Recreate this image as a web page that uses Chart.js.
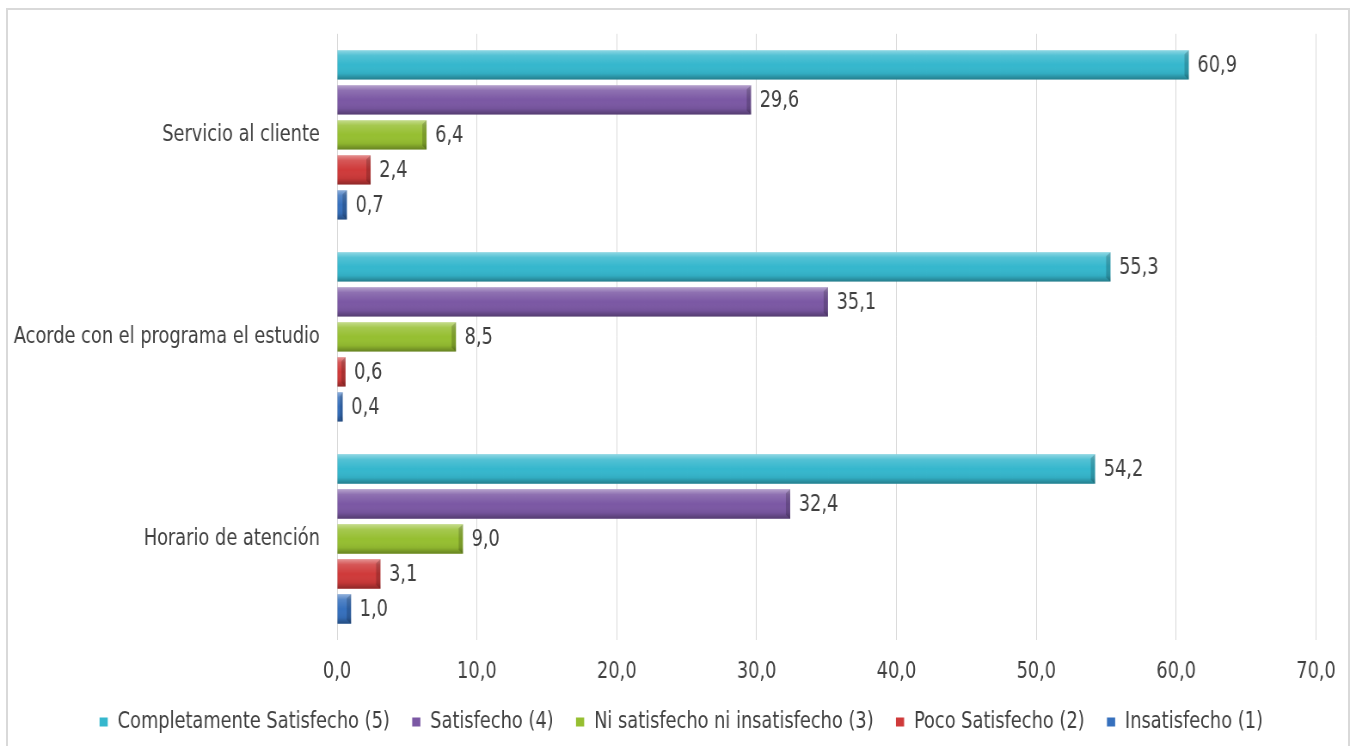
<!DOCTYPE html>
<html>
<head>
<meta charset="utf-8">
<script src="https://cdn.jsdelivr.net/npm/chart.js@4.4.1/dist/chart.umd.min.js"></script>
<style>
  html, body { margin: 0; padding: 0; background: #fff; width: 1356px; height: 746px; overflow: hidden; }
  #frame { position: absolute; left: 6px; top: 8px; width: 1344px; height: 760px; border: 2px solid #d9d9d9; box-sizing: border-box; }
  #wrap { position: absolute; left: 0; top: 0; width: 1577px; height: 746px; transform: scaleX(0.85986); transform-origin: 0 0; }
</style>
</head>
<body>
<div id="frame"></div>
<div id="wrap"><canvas id="c" width="1577" height="746"></canvas></div>
<script>
const categories = ['Servicio al cliente', 'Acorde con el programa el estudio', 'Horario de atención'];
const seriesNames = ['Completamente Satisfecho (5)', 'Satisfecho (4)', 'Ni satisfecho ni insatisfecho (3)', 'Poco Satisfecho (2)', 'Insatisfecho (1)'];
const completamente = [60.9, 55.3, 54.2];
const satisfecho = [29.6, 35.1, 32.4];
const niSatisfecho = [6.4, 8.5, 9.0];
const pocoSatisfecho = [2.4, 0.6, 3.1];
const insatisfecho = [0.7, 0.4, 1.0];
const xTicks = [0, 10, 20, 30, 40, 50, 60, 70];
const seriesColors = ['#35b7cd', '#7b58a4', '#96bf31', '#cf3a3a', '#3670bd'];

const FONT = "'DejaVu Sans Condensed', 'DejaVu Sans', sans-serif";
const TEXT = '#404040';
const fmt = v => v.toFixed(1).replace('.', ',');

const bevelPlugin = {
  id: 'bevel',
  afterDatasetsDraw(chart) {
    const ctx = chart.ctx;
    chart.data.datasets.forEach((ds, di) => {
      const meta = chart.getDatasetMeta(di);
      if (meta.hidden) return;
      meta.data.forEach(bar => {
        const top = bar.y - bar.height / 2;
        const h = bar.height;
        const left = Math.min(bar.x, bar.base);
        const w = Math.abs(bar.x - bar.base);
        ctx.save();
        const g = ctx.createLinearGradient(0, top, 0, top + h);
        g.addColorStop(0, 'rgba(255,255,255,0.45)');
        g.addColorStop(0.18, 'rgba(255,255,255,0.15)');
        g.addColorStop(0.5, 'rgba(255,255,255,0)');
        g.addColorStop(0.8, 'rgba(0,0,0,0.06)');
        g.addColorStop(1, 'rgba(0,0,0,0.32)');
        ctx.fillStyle = g;
        ctx.fillRect(left, top, w, h);
        const bw = Math.min(5, w / 2);
        ctx.fillStyle = 'rgba(0,0,0,0.18)';
        ctx.beginPath();
        ctx.moveTo(left + w - bw, top + 4);
        ctx.lineTo(left + w, top);
        ctx.lineTo(left + w, top + h);
        ctx.lineTo(left + w - bw, top + h - 4);
        ctx.closePath();
        ctx.fill();
        ctx.restore();
      });
    });
  }
};

const labelPlugin = {
  id: 'valueLabels',
  afterDatasetsDraw(chart) {
    const ctx = chart.ctx;
    ctx.save();
    ctx.font = "23px " + FONT;
    ctx.fillStyle = TEXT;
    ctx.textAlign = 'left';
    ctx.textBaseline = 'middle';
    chart.data.datasets.forEach((ds, di) => {
      const meta = chart.getDatasetMeta(di);
      meta.data.forEach((bar, i) => {
        ctx.fillText(fmt(ds.data[i]), bar.x + 10, bar.y + 1);
      });
    });
    ctx.restore();
  }
};

// shift the legend block slightly to the right, as in the original
const legendShift = {
  id: 'legendShift',
  beforeDraw(chart) {
    const lg = chart.legend;
    if (lg && !lg._shifted) { lg.left += 27; lg.right += 27; lg._shifted = true; }
  }
};

const seriesData = [completamente, satisfecho, niSatisfecho, pocoSatisfecho, insatisfecho];

new Chart(document.getElementById('c'), {
  type: 'bar',
  data: {
    labels: categories,
    datasets: seriesNames.map((n, i) => ({
      label: n,
      data: seriesData[i],
      backgroundColor: seriesColors[i],
      borderWidth: 0,
      categoryPercentage: 0.866,
      barPercentage: 0.84
    }))
  },
  options: {
    indexAxis: 'y',
    responsive: false,
    animation: false,
    devicePixelRatio: 1,
    layout: { padding: { top: 31, right: 46.5, bottom: 2.5, left: 0 } },
    scales: {
      x: {
        min: 0, max: 70,
        afterBuildTicks(scale) { scale.ticks = xTicks.map(v => ({ value: v })); },
        ticks: { color: TEXT, font: { family: FONT, size: 23 }, padding: 18, maxRotation: 0, callback: v => fmt(v) },
        grid: { color: '#d9d9d9', lineWidth: 1, drawTicks: false },
        border: { display: false },
        afterFit(scale) { scale.height = 44.5; }
      },
      y: {
        ticks: { color: TEXT, font: { family: FONT, size: 23 }, padding: 20 },
        grid: { display: false, drawTicks: false },
        border: { display: false },
        afterFit(scale) { scale.width = 392; }
      }
    },
    plugins: {
      legend: {
        position: 'bottom',
        labels: {
          color: TEXT,
          font: { family: FONT, size: 23 },
          boxWidth: 9.5, boxHeight: 9,
          padding: 26
        }
      },
      tooltip: { enabled: false }
    }
  },
  plugins: [bevelPlugin, labelPlugin, legendShift]
});
</script>
</body>
</html>
